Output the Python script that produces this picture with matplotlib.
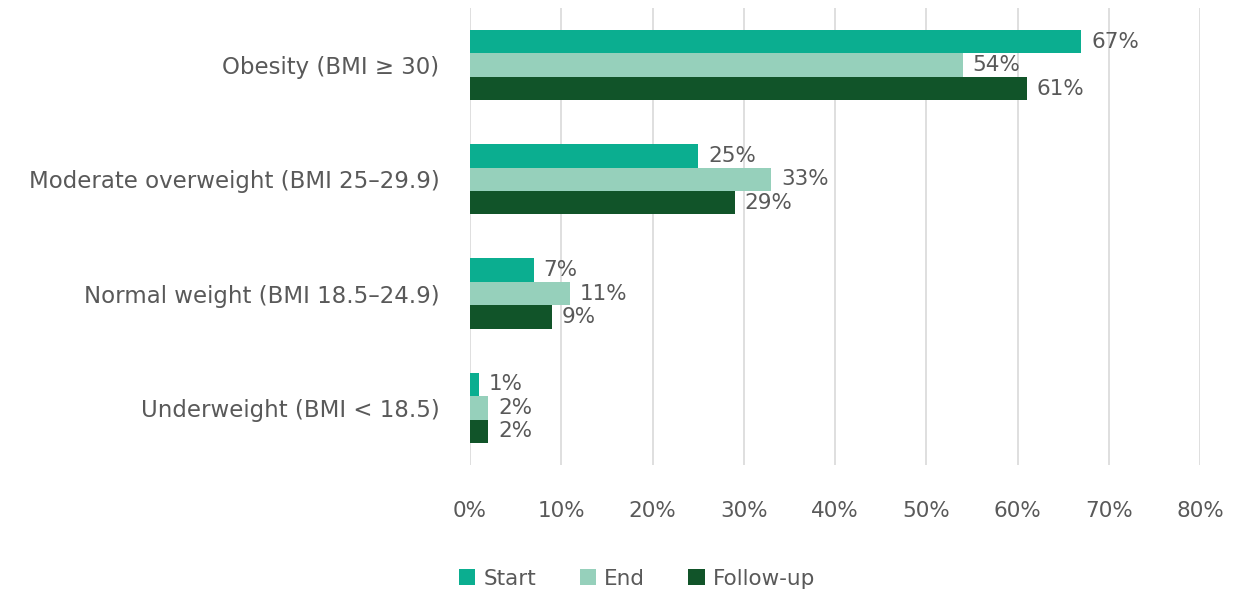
import matplotlib.pyplot as plt
import numpy as np
from matplotlib.ticker import PercentFormatter

categories = ["Obesity (BMI \u2265 30)", "Moderate overweight (BMI 25\u201329.9)",
              "Normal weight (BMI 18.5\u201324.9)", "Underweight (BMI < 18.5)"]
series_names = ["Start", "End", "Follow-up"]
start = [67, 25, 7, 1]
end = [54, 33, 11, 2]
follow_up = [61, 29, 9, 2]
colors = ["#0BAE90", "#96D0BB", "#115429"]

plt.rcParams["font.family"] = ["DejaVu Sans"]
text_color = "#595959"
fs = 15.5


def plot_bars():
    fig = plt.figure(figsize=(12.35, 5.93), dpi=100)
    ax = fig.add_axes([0.3806, 0.2159, 0.5911, 0.7706])
    y = np.arange(len(categories))
    h = 0.205
    for i, (name, vals, col) in enumerate(zip(series_names, [start, end, follow_up], colors)):
        pos = y + (i - 1) * h
        bars = ax.barh(pos, vals, height=h, color=col, label=name, zorder=3)
        ax.bar_label(bars, labels=[f"{v}%" for v in vals], padding=7,
                     fontsize=fs, color=text_color)
    ax.set_yticks(y, categories)
    ax.set_ylim(len(categories) - 0.5, -0.5)
    ax.set_xlim(0, 80)
    ax.set_xticks(np.arange(0, 81, 10))
    ax.xaxis.set_major_formatter(PercentFormatter(decimals=0))
    ax.grid(axis="x", color="#D9D9D9", linewidth=1.2, zorder=0)
    for s in ax.spines.values():
        s.set_visible(False)
    ax.tick_params(length=0, labelsize=fs, labelcolor=text_color)
    ax.tick_params(axis="x", pad=26)
    ax.tick_params(axis="y", pad=22, labelsize=16.5)
    fig.legend(loc="center", bbox_to_anchor=(0.516, 0.024),
               ncol=3, frameon=False, fontsize=fs, labelcolor=text_color,
               handlelength=0.75, handleheight=0.75, handletextpad=0.4, columnspacing=2.0)
    return fig, ax


if __name__ == "__main__":
    fig, ax = plot_bars()
    fig.savefig("out.png", dpi=100)
